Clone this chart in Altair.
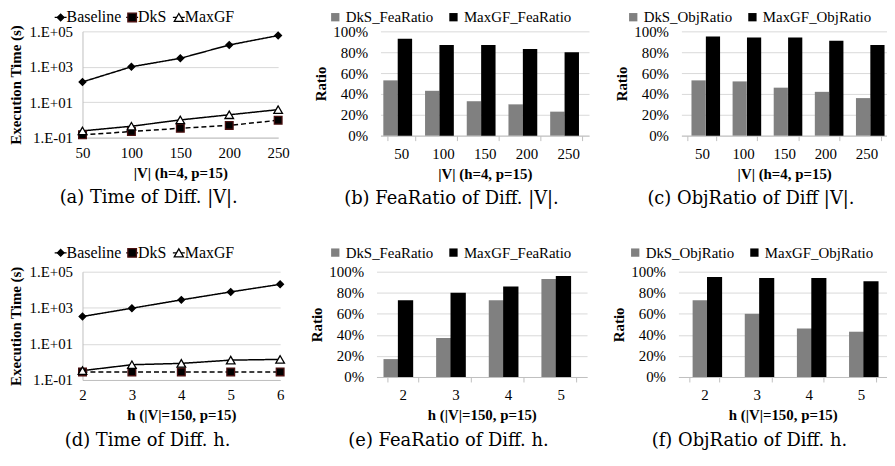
import altair as alt
import pandas as pd

# ---------------- data ----------------
V_SIZES = [50, 100, 150, 200, 250]
H_LINE = [2, 3, 4, 5, 6]
H_BAR = [2, 3, 4, 5]

LINE_SERIES = ["Baseline", "DkS", "MaxGF"]
TIME_V_BASELINE = [140, 1000, 3000, 17000, 58000]
TIME_V_DKS = [0.145, 0.22, 0.34, 0.49, 0.96]
TIME_V_MAXGF = [0.24, 0.44, 1.0, 1.95, 3.8]

TIME_H_BASELINE = [330, 950, 2750, 7600, 20000]
TIME_H_DKS = [0.28, 0.28, 0.28, 0.28, 0.28]
TIME_H_MAXGF = [0.33, 0.70, 0.83, 1.26, 1.38]

FEA_NAMES = ["DkS_FeaRatio", "MaxGF_FeaRatio"]
OBJ_NAMES = ["DkS_ObjRatio", "MaxGF_ObjRatio"]
FEA_V_DKS = [53, 43, 33, 30, 23]
FEA_V_MAXGF = [93, 87, 87, 83, 80]
OBJ_V_DKS = [53, 52, 46, 42, 36]
OBJ_V_MAXGF = [95, 94, 94, 91, 87]
FEA_H_DKS = [17, 37, 73, 93]
FEA_H_MAXGF = [73, 80, 86, 96]
OBJ_H_DKS = [73, 60, 46, 43]
OBJ_H_MAXGF = [95, 94, 94, 91]

LOG_TICKS = [0.1, 10, 1000, 100000]
PCT_TICKS = [0, 0.2, 0.4, 0.6, 0.8, 1.0]

# ---------------- style ----------------
SERIF = "Liberation Serif"
CAP_FONT = "DejaVu Serif"
GRID = "#d9d9d9"
AXIS_LINE = "#bfbfbf"
LOG_LABEL = ("datum.value >= 1 ? '1.E+0' + format(log(datum.value)/LN10, '.0f') "
             ": '1.E-0' + format(-log(datum.value)/LN10, '.0f')")

AXIS_TEXT = dict(labelFont=SERIF, labelFontSize=15, labelColor="black",
                 titleFont=SERIF, titleFontSize=15, titleFontWeight="bold", titleColor="black")
LEG_TEXT = dict(labelFont=SERIF, labelFontSize=15, labelColor="black")

# marker style per line series: shape, fill, stroke, size, dash
MARKERS = {
    "Baseline": ("diamond", "black", "black", 45, [1, 0]),
    "DkS": ("square", "black", "#4a1010", 75, [5, 3]),
    "MaxGF": ("triangle-up", "white", "black", 85, [1, 0]),
}
# legend key offsets (px, relative to the plot's left edge)
LEG_KEY_X = {"Baseline": -22, "DkS": 50, "MaxGF": 97}


def caption(text):
    return alt.TitleParams(text, orient="bottom", anchor="middle", frame="bounds",
                           font=CAP_FONT, fontSize=18, fontWeight="normal",
                           color="black", offset=9)


def line_legend(y_off):
    one = pd.DataFrame({"k": [0]})
    layers = []
    for name in LINE_SERIES:
        shape, fill, stroke, size, dash = MARKERS[name]
        kx = LEG_KEY_X[name]
        layers.append(alt.Chart(one).mark_rule(color="black", strokeWidth=1.3, strokeDash=dash)
                      .encode(x=alt.value(kx - 6), x2=alt.value(kx + 6), y=alt.value(y_off)))
        layers.append(alt.Chart(one).mark_point(shape=shape, fill=fill, stroke=stroke, size=size,
                                                filled=True, opacity=1, strokeWidth=1.3)
                      .encode(x=alt.value(kx), y=alt.value(y_off)))
        layers.append(alt.Chart(one).mark_text(text=name, align="left", baseline="middle",
                                               font=SERIF, fontSize=16, color="black")
                      .encode(x=alt.value(kx + 6), y=alt.value(y_off)))
    return layers


def line_panel(xs, base, dks, maxgf, xtitle, cap, w, h, leg_y):
    rows = []
    for name, vals in zip(LINE_SERIES, [base, dks, maxgf]):
        for xv, v in zip(xs, vals):
            rows.append({"x": xv, "t": v, "s": name})
    df = pd.DataFrame(rows)
    x = alt.X("x:Q", scale=alt.Scale(domain=[xs[0], xs[-1]], nice=False, zero=False),
              axis=alt.Axis(values=xs, format="d", title=xtitle, grid=False, ticks=False,
                            domainColor=AXIS_LINE, labelPadding=8, titlePadding=5,
                            labelFlush=False, labelOverlap=False, **AXIS_TEXT))
    y = alt.Y("t:Q", scale=alt.Scale(type="log", domain=[0.1, 100000], nice=False),
              axis=alt.Axis(values=LOG_TICKS, labelExpr=LOG_LABEL, title="Execution Time (s)",
                            gridColor=GRID, ticks=False, domainColor=AXIS_LINE,
                            labelPadding=10, titlePadding=6, **AXIS_TEXT))
    lines = alt.Chart(df).mark_line(color="black", strokeWidth=1.5).encode(
        x=x, y=y, detail="s:N",
        strokeDash=alt.StrokeDash("s:N", scale=alt.Scale(domain=LINE_SERIES,
                                  range=[MARKERS[n][4] for n in LINE_SERIES]), legend=None),
    )
    pts = alt.Chart(df).mark_point(opacity=1, strokeWidth=1.3, filled=True).encode(
        x=x, y=y,
        shape=alt.Shape("s:N", scale=alt.Scale(domain=LINE_SERIES,
                        range=[MARKERS[n][0] for n in LINE_SERIES]), legend=None),
        fill=alt.Fill("s:N", scale=alt.Scale(domain=LINE_SERIES,
                      range=[MARKERS[n][1] for n in LINE_SERIES]), legend=None),
        stroke=alt.Stroke("s:N", scale=alt.Scale(domain=LINE_SERIES,
                          range=[MARKERS[n][2] for n in LINE_SERIES]), legend=None),
        size=alt.Size("s:N", scale=alt.Scale(domain=LINE_SERIES,
                      range=[MARKERS[n][3] for n in LINE_SERIES]), legend=None),
    )
    return alt.layer(lines, pts, *line_legend(leg_y)).properties(
        width=w, height=h, title=caption(cap))


def bar_panel(cats, dks, maxgf, names, xtitle, cap, w, h, lx, ly, pad, bar_w):
    rows = []
    for name, vals in zip(names, [dks, maxgf]):
        for c, v in zip(cats, vals):
            rows.append({"c": str(c), "v": v / 100.0, "s": name})
    df = pd.DataFrame(rows)
    cat_order = [str(c) for c in cats]
    return alt.Chart(df).mark_bar(width=bar_w).encode(
        x=alt.X("c:N", sort=cat_order,
                scale=alt.Scale(paddingInner=pad, paddingOuter=pad / 2),
                axis=alt.Axis(title=xtitle, labelAngle=0, tickBand="extent", tickColor=AXIS_LINE,
                              tickSize=5, domainColor=AXIS_LINE, labelPadding=6, titlePadding=5,
                              **AXIS_TEXT)),
        xOffset=alt.XOffset("s:N", sort=names, scale=alt.Scale(paddingInner=0, paddingOuter=0)),
        y=alt.Y("v:Q", scale=alt.Scale(domain=[0, 1], nice=False),
                axis=alt.Axis(values=PCT_TICKS, format=".0%", title="Ratio", gridColor=GRID,
                              ticks=False, domain=False, labelPadding=13, titlePadding=4,
                              **AXIS_TEXT)),
        color=alt.Color("s:N", scale=alt.Scale(domain=names, range=["#808080", "#000000"]),
                        legend=alt.Legend(orient="none", legendX=lx, legendY=ly,
                                          direction="horizontal", title=None, symbolType="square",
                                          symbolSize=70, labelOffset=3, columnPadding=12,
                                          padding=0, **LEG_TEXT)),
    ).properties(width=w, height=h, title=caption(cap))


ind = dict(shape="independent", fill="independent", stroke="independent",
           size="independent", strokeDash="independent", color="independent")

a = line_panel(V_SIZES, TIME_V_BASELINE, TIME_V_DKS, TIME_V_MAXGF, "|V| (h=4, p=15)",
               "(a) Time of Diff. |V|.", 197, 107, -14)
b = bar_panel(V_SIZES, FEA_V_DKS, FEA_V_MAXGF, FEA_NAMES, "|V| (h=4, p=15)",
              "(b) FeaRatio of Diff. |V|.", 210, 105, -53, -22, 0.31, 14.5)
c = bar_panel(V_SIZES, OBJ_V_DKS, OBJ_V_MAXGF, OBJ_NAMES, "|V| (h=4, p=15)",
              "(c) ObjRatio of Diff |V|.", 207, 105, -56, -22, 0.31, 14.3)
d = line_panel(H_LINE, TIME_H_BASELINE, TIME_H_DKS, TIME_H_MAXGF, "h (|V|=150, p=15)",
               "(d) Time of Diff. h.", 199, 109, -19)
e = bar_panel(H_BAR, FEA_H_DKS, FEA_H_MAXGF, FEA_NAMES, "h  (|V|=150, p=15)",
              "(e) FeaRatio of Diff. h.", 212, 106, -49, -27, 0.42, 15.4)
f = bar_panel(H_BAR, OBJ_H_DKS, OBJ_H_MAXGF, OBJ_NAMES, "h  (|V|=150, p=15)",
              "(f) ObjRatio of Diff. h.", 210, 106, -51, -27, 0.42, 15.2)

top_bc = alt.hconcat(b, c, spacing=93, bounds="flush").resolve_scale(**ind).resolve_legend(**ind)
top = alt.hconcat(a, top_bc, spacing=103, bounds="flush").resolve_scale(**ind).resolve_legend(**ind)
bot_ef = alt.hconcat(e, f, spacing=92, bounds="flush").resolve_scale(**ind).resolve_legend(**ind)
bot = alt.hconcat(d, bot_ef, spacing=97, bounds="flush").resolve_scale(**ind).resolve_legend(**ind)

# nested concat rows count as zero height in a flush layout: spacing is top-to-top
chart = alt.vconcat(top, bot, spacing=242, bounds="flush").resolve_scale(**ind).resolve_legend(**ind)
chart = chart.properties(padding=0).configure_view(stroke=None).configure_axis(
    **AXIS_TEXT).configure_legend(**LEG_TEXT)

chart.save("out.html", embed_options={"renderer": "svg", "actions": False})
